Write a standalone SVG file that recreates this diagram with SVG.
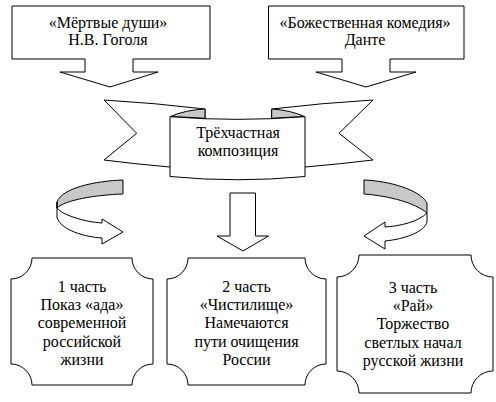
<svg xmlns="http://www.w3.org/2000/svg" width="496" height="402" viewBox="0 0 496 402">
<style>
.s{fill:#fff;stroke:#000;stroke-width:1}
.g{fill:#c8c8c8;stroke:#000;stroke-width:1}
text{font-size:16px;text-anchor:middle;fill:#000}
</style>
<rect width="496" height="402" fill="#fff"/>
<g font-family="'Liberation Serif', 'DejaVu Serif', serif">
<g id="gogol">
<path class="s" d="M12,6 H210 V59 H133 V72 H158 L110,87 L60,72 H85 V59 H12 Z"/>
<text x="108" y="28">«Мёртвые души»</text>
<text x="108" y="45">Н.В. Гоголя</text>
</g>
<g id="dante">
<path class="s" d="M268.5,6 H464 V59 H390 V72 H416 L366,87 L316,72 H342 V59 H268.5 Z"/>
<text x="365" y="28">«Божественная комедия»</text>
<text x="365" y="45">Данте</text>
</g>
<g id="composition">
<path class="s" d="M104,100 Q155,103 205,109 L205,150 L170,167 Q135,164 104,160 L136.7,133.3 Z"/>
<path class="s" d="M373,100 Q322,103 271.7,109 L271.7,150 L305,167 Q340,164 373,160 L339,133.3 Z"/>
<path class="g" d="M170,116.7 Q185,110 205,109 L205,118.3 Q187,117 170,116.7 Z"/>
<path class="g" d="M305,116.7 Q290,110 271.7,109 L271.7,118.3 Q289,117 305,116.7 Z"/>
<path class="s" d="M170,116.7 Q237.5,122 305,116.7 L305,176.5 Q237.5,183 170,176.5 Z"/>
<text x="238" y="138">Трёхчастная</text>
<text x="238" y="156">композиция</text>
</g>
<g id="connectors">
<g id="arrow-left">
<path class="g" d="M123,180 C95,181 62,188 57,202 L57,208 C65,200 95,195 123,194 Z"/>
<path class="s" d="M57,202 L57,217 C60,230 85,237 102,238 L102,244 L123,232 L102,219 L102,223 C85,222 62,215 57,208 Z"/>
</g>
<g id="arrow-center">
<path class="s" d="M230,193 H255.5 V236 H268.5 L243,251 L217,236 H230 Z"/>
</g>
<g id="arrow-right">
<path class="g" d="M364,180 C390,181 420,190 427,203 L427,213 C415,203 390,196 364,194 Z"/>
<path class="s" d="M427,213 L427,222 C424,232 405,239 385,241 L385,249 L364,236 L385,222 L385,227 C400,226 418,222 427,213 Z"/>
</g>
</g>
<g id="part1">
<path class="s" d="M32,258 H132 A21,21 0 0 0 153,279 V364 A21,21 0 0 0 132,385 H32 A21,21 0 0 0 11,364 V279 A21,21 0 0 0 32,258 Z"/>
<text x="82" y="291.5">1 часть</text>
<text x="82" y="310">Показ «ада»</text>
<text x="82" y="328">современной</text>
<text x="82" y="346.5">российской</text>
<text x="82" y="365">жизни</text>
</g>
<g id="part2">
<path class="s" d="M188,258 H305 A21,21 0 0 0 326,279 V364 A21,21 0 0 0 305,385 H188 A21,21 0 0 0 167,364 V279 A21,21 0 0 0 188,258 Z"/>
<text x="246.5" y="291.5">2 часть</text>
<text x="246.5" y="310">«Чистилище»</text>
<text x="246.5" y="328">Намечаются</text>
<text x="246.5" y="346.5">пути очищения</text>
<text x="246.5" y="365">России</text>
</g>
<g id="part3">
<path class="s" d="M359,255 H471 A22,22 0 0 0 493,277 V371 A22,22 0 0 0 471,393 H359 A22,22 0 0 0 337,371 V277 A22,22 0 0 0 359,255 Z"/>
<text x="413" y="292.5">3 часть</text>
<text x="413" y="311">«Рай»</text>
<text x="413" y="329">Торжество</text>
<text x="413" y="347.5">светлых начал</text>
<text x="413" y="366">русской жизни</text>
</g>
</g>
</svg>
